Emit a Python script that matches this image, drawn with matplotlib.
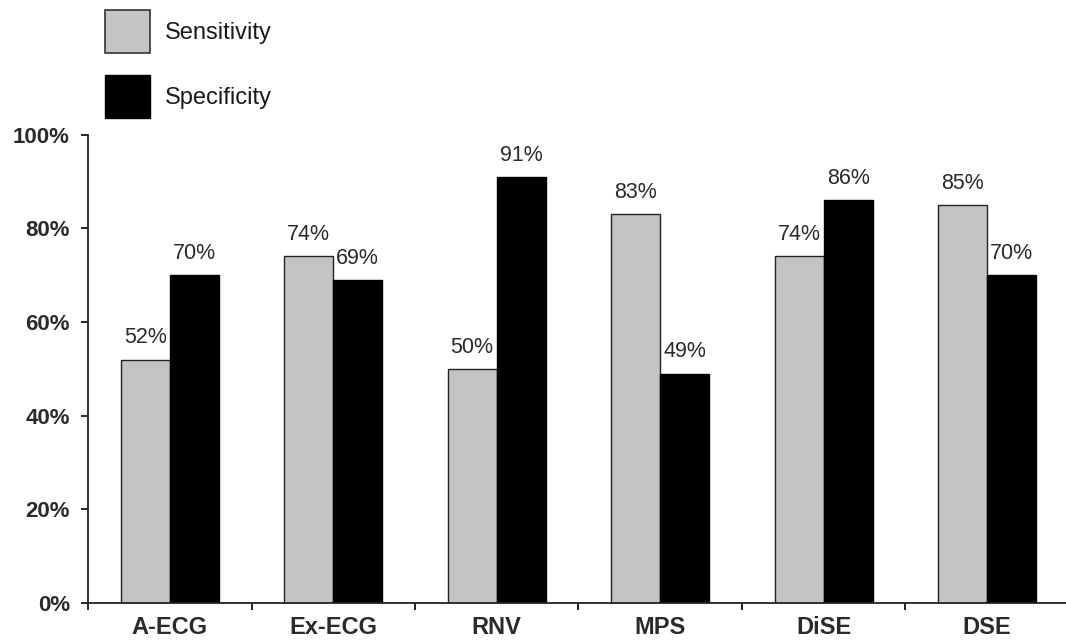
import numpy as np
import matplotlib
matplotlib.use('Agg')
import matplotlib.pyplot as plt
from matplotlib.patches import Patch

plt.rcParams['font.family'] = ['Liberation Sans', 'DejaVu Sans']

# 各檢查方法的敏感度與特異度 (%)
tests = ['A-ECG', 'Ex-ECG', 'RNV', 'MPS', 'DiSE', 'DSE']
sensitivity = [52, 74, 50, 83, 74, 85]
specificity = [70, 69, 91, 49, 86, 70]

gray = '#c4c4c4'
text_color = '#2a2a2a'

fig = plt.figure(figsize=(10.66, 6.41), dpi=100)
ax = fig.add_axes([0.0826, 0.059, 0.92, 0.731])

x = np.arange(len(tests))
w = 0.3
b1 = ax.bar(x - w / 2, sensitivity, w, color=gray, edgecolor='#222222', linewidth=1.0)
b2 = ax.bar(x + w / 2, specificity, w, color='black', edgecolor='black', linewidth=1.0)

# 數值標籤
for bars, vals in [(b1, sensitivity), (b2, specificity)]:
    for rect, v in zip(bars, vals):
        ax.annotate(f'{v}%', (rect.get_x() + rect.get_width() / 2, v),
                    xytext=(0, 8), textcoords='offset points',
                    ha='center', va='bottom', fontsize=15.5, color=text_color)

ax.set_xlim(-0.5, len(tests) - 0.5)
ax.set_ylim(0, 100)

# Y 軸
ax.set_yticks([0, 20, 40, 60, 80, 100])
ax.set_yticklabels([f'{t}%' for t in [0, 20, 40, 60, 80, 100]],
                   fontsize=16, fontweight='bold', color=text_color)
ax.tick_params(axis='y', direction='out', length=5, width=1.2, pad=8)

# X 軸: 分隔刻度在組與組之間, 標籤在組中央
ax.set_xticks(np.arange(-0.5, len(tests) + 0.5, 1))
ax.set_xticklabels([])
ax.tick_params(axis='x', which='major', direction='out', length=5, width=1.2)
ax.set_xticks(x, minor=True)
ax.set_xticklabels(tests, minor=True, fontsize=17, fontweight='bold', color=text_color)
ax.tick_params(axis='x', which='minor', length=0, pad=9)

for s in ['top', 'right']:
    ax.spines[s].set_visible(False)
for s in ['left', 'bottom']:
    ax.spines[s].set_linewidth(1.3)
    ax.spines[s].set_color('#222222')

# 圖例
handles = [Patch(facecolor=gray, edgecolor='#333333', linewidth=1.2, label='Sensitivity'),
           Patch(facecolor='black', edgecolor='black', label='Specificity')]
fig.legend(handles=handles, loc='upper left', bbox_to_anchor=(105 / 1066, 1 - 10 / 641),
           frameon=False, fontsize=17, handlelength=1.9, handleheight=2.43,
           labelspacing=0.93, handletextpad=0.64, borderpad=0, borderaxespad=0,
           labelcolor='#1a1a1a')

fig.savefig('out.png', dpi=100)
